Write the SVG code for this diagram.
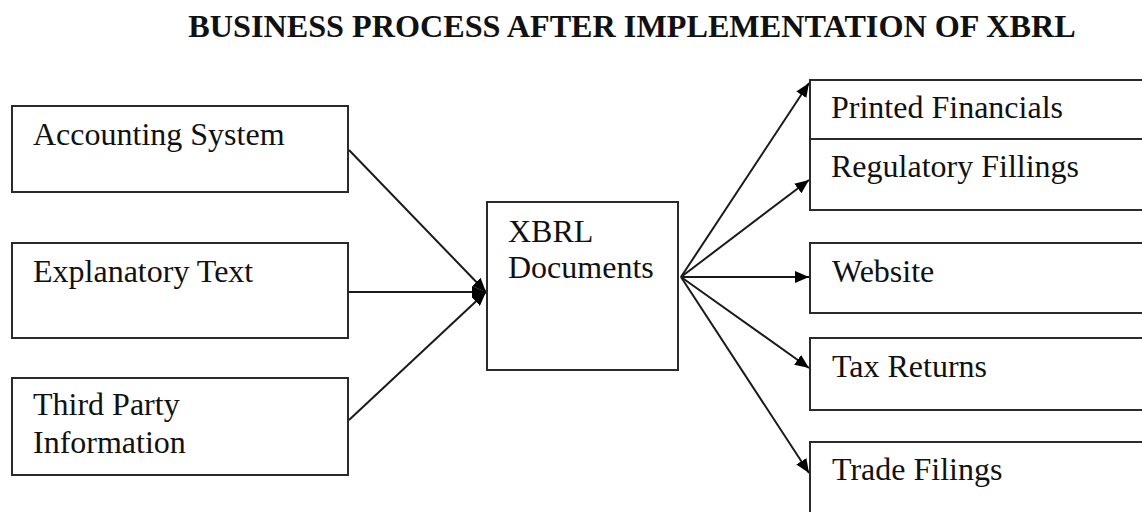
<svg xmlns="http://www.w3.org/2000/svg" width="1142" height="512" viewBox="0 0 1142 512">
  <style>
    .box { fill: #ffffff; stroke: #2a2a2a; stroke-width: 2; }
    .lbl { font-family: "Liberation Serif", "Times New Roman", serif; font-size: 32px; fill: #111111; }
    .title { font-family: "Liberation Serif", "Times New Roman", serif; font-size: 32.2px; font-weight: bold; fill: #111111; }
    .conn { stroke: #1a1a1a; stroke-width: 2; fill: none; }
  </style>
  <defs>
    <marker id="arrow" viewBox="0 0 14 12" refX="14" refY="6" markerWidth="14" markerHeight="12" markerUnits="userSpaceOnUse" orient="auto">
      <path d="M0,0 L14,6 L0,12 z" fill="#000000"/>
    </marker>
  </defs>

  <text class="title" x="632" y="37" text-anchor="middle">BUSINESS PROCESS AFTER IMPLEMENTATION OF XBRL</text>

  <!-- connectors -->
  <g id="connectors">
    <line class="conn" x1="349" y1="150" x2="486" y2="292" marker-end="url(#arrow)"/>
    <line class="conn" x1="349" y1="292" x2="486" y2="292" marker-end="url(#arrow)"/>
    <line class="conn" x1="349" y1="420" x2="486" y2="292" marker-end="url(#arrow)"/>
    <line class="conn" x1="681" y1="277" x2="809" y2="83" marker-end="url(#arrow)"/>
    <line class="conn" x1="681" y1="277" x2="809" y2="180" marker-end="url(#arrow)"/>
    <line class="conn" x1="681" y1="277" x2="809" y2="277" marker-end="url(#arrow)"/>
    <line class="conn" x1="681" y1="277" x2="809" y2="368" marker-end="url(#arrow)"/>
    <line class="conn" x1="681" y1="277" x2="809" y2="473" marker-end="url(#arrow)"/>
  </g>

  <!-- sources -->
  <g id="accounting-system">
    <rect class="box" x="12" y="106" width="336" height="86"/>
    <text class="lbl" x="33" y="145">Accounting System</text>
  </g>
  <g id="explanatory-text">
    <rect class="box" x="12" y="243" width="336" height="95"/>
    <text class="lbl" x="33" y="282">Explanatory Text</text>
  </g>
  <g id="third-party">
    <rect class="box" x="12" y="378" width="336" height="97"/>
    <text class="lbl" x="33" y="415">Third Party</text>
    <text class="lbl" x="33" y="453">Information</text>
  </g>

  <!-- hub -->
  <g id="xbrl-documents">
    <rect class="box" x="487" y="202" width="191" height="168"/>
    <text class="lbl" x="508" y="242">XBRL</text>
    <text class="lbl" x="508" y="278">Documents</text>
  </g>

  <!-- outputs -->
  <g id="printed-financials">
    <rect class="box" x="810" y="80" width="340" height="59"/>
    <text class="lbl" x="831" y="118">Printed Financials</text>
  </g>
  <g id="regulatory-fillings">
    <rect class="box" x="810" y="139" width="340" height="71"/>
    <text class="lbl" x="831" y="177">Regulatory Fillings</text>
  </g>
  <g id="website">
    <rect class="box" x="810" y="243" width="340" height="70"/>
    <text class="lbl" x="832" y="282">Website</text>
  </g>
  <g id="tax-returns">
    <rect class="box" x="810" y="338" width="340" height="72"/>
    <text class="lbl" x="832" y="377">Tax Returns</text>
  </g>
  <g id="trade-filings">
    <rect class="box" x="810" y="442" width="340" height="80"/>
    <text class="lbl" x="832" y="480">Trade Filings</text>
  </g>
</svg>
